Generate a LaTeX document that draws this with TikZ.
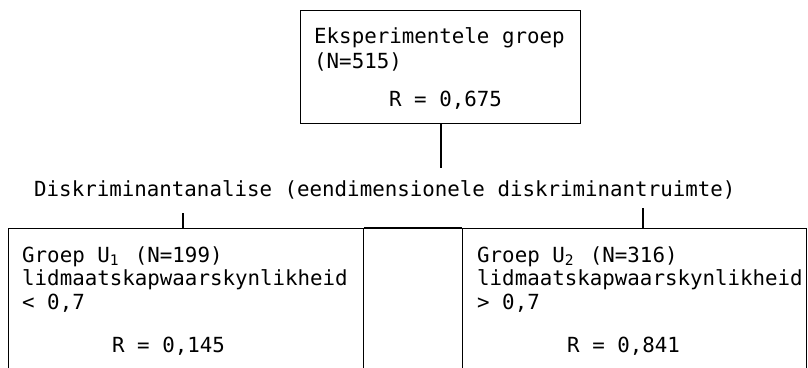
\documentclass[tikz,border=0pt]{standalone}
\usepackage{fontspec}
\setmonofont{DejaVu Sans Mono}
\usetikzlibrary{calc}

% subscript that keeps the full character cell of the mono font
\newcommand\ind[1]{\rlap{\textsubscript{#1}}\phantom{0}}

\tikzset{
	txt/.style={anchor=base west, inner sep=0pt, font=\ttfamily\fontsize{20.8}{24}\selectfont},
	box/.style={draw, line width=1.2pt, anchor=north west, inner sep=0pt},
	link/.style={line width=2pt},
}

\begin{document}
\begin{tikzpicture}[x=1pt,y=-1pt]
	\useasboundingbox (0,0) rectangle (808,367);
	\clip (0,0) rectangle (808,367);
	
	% Box for the whole group
	\node[box, minimum width=280pt, minimum height=113pt] (top) at (300,10) {};
	\node[txt] (topname) at (314,43) {Eksperimentele groep};
	\node[txt] (topn) at (314,68) {(N=515)};
	\node[txt] (topr) at (389,106) {R = 0,675};
	
	% Stem down to the analysis line
	\coordinate (stem) at (441,168);
	\draw[link] (top.south -| stem) -- (stem);
	\node[txt] (analise) at (34,196) {Diskriminantanalise (eendimensionele diskriminantruimte)};
	
	% The two subgroups, open at the bottom
	\node[box, minimum width=355pt, minimum height=200pt] (links) at (8,228) {};
	\node[box, minimum width=344pt, minimum height=200pt] (regs) at (462,228) {};
	\draw[line width=1.2pt] (links.north east) -- (regs.north west);
	
	% Short ticks onto the subgroup boxes
	\coordinate (ltick) at (183,213);
	\coordinate (rtick) at (643,208);
	\draw[link] (ltick) -- (ltick |- links.north);
	\draw[link] (rtick) -- (rtick |- regs.north);
	
	% Texts of group U1
	\node[txt] (lname) at (22,262) {Groep U\ind{1} (N=199)};
	\node[txt] (lwaar) at (22,285) {lidmaatskapwaarskynlikheid};
	\node[txt] (lgrens) at (22,309) {< 0,7};
	\node[txt] (lr) at (112,352) {R = 0,145};
	
	% Texts of group U2
	\node[txt] (rname) at (477,262) {Groep U\ind{2} (N=316)};
	\node[txt] (rwaar) at (477,285) {lidmaatskapwaarskynlikheid};
	\node[txt] (rgrens) at (477,309) {> 0,7};
	\node[txt] (rr) at (567,352) {R = 0,841};
\end{tikzpicture}
\end{document}
